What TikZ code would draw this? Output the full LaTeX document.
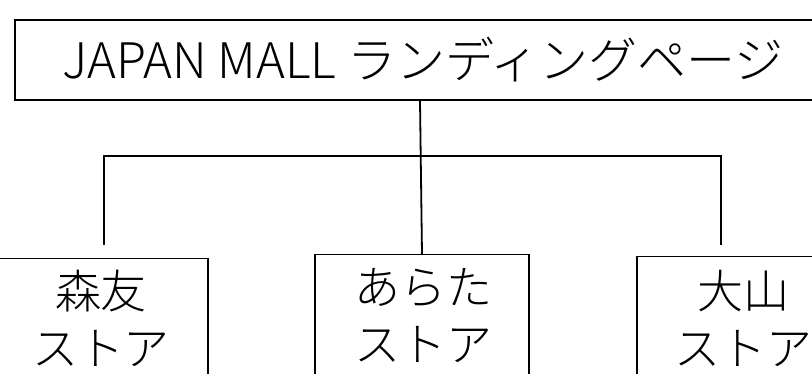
\documentclass[tikz,border=0pt]{standalone}
\usepackage{fontspec}
\setmainfont{Noto Sans CJK JP}[UprightFont=* Light]
\begin{document}
\begin{tikzpicture}[x=1pt,y=-1pt,
  box/.style={draw=black, line width=1.3pt, rectangle, inner sep=0pt},
  lbl/.style={font=\fontsize{46}{57}\selectfont, align=center, inner sep=0pt},
  conn/.style={line width=1.8pt}]
\useasboundingbox (0,0) rectangle (812,374);
\clip (0,0) rectangle (812,374);
% top box
\node[box, minimum width=810pt, minimum height=80pt] (top) at (420,60) {};
\node[lbl, font=\fontsize{49}{57}\selectfont] (toptext) at (423,60) {JAPAN MALL ランディングページ};
% bottom boxes
\node[box, minimum width=216pt, minimum height=200pt, anchor=north] (left) at (100,258) {};
\node[box, minimum width=214pt, minimum height=200pt, anchor=north] (mid) at (422,254) {};
\node[box, minimum width=210pt, minimum height=200pt, anchor=north] (right) at (742,256) {};
\node[lbl] (lefttext) at (101,318) {森友\\ストア};
\node[lbl] (midtext) at (423,316) {あらた\\ストア};
\node[lbl] (righttext) at (743,318) {大山\\ストア};
% connectors
\coordinate (la) at (104,245);
\coordinate (lb) at (104,156);
\coordinate (rb) at (721,156);
\coordinate (ra) at (721,245);
\draw[conn] (top.south) -- (mid.north);
\draw[conn] (la) -- (lb) -- (rb) -- (ra);
\end{tikzpicture}
\end{document}
